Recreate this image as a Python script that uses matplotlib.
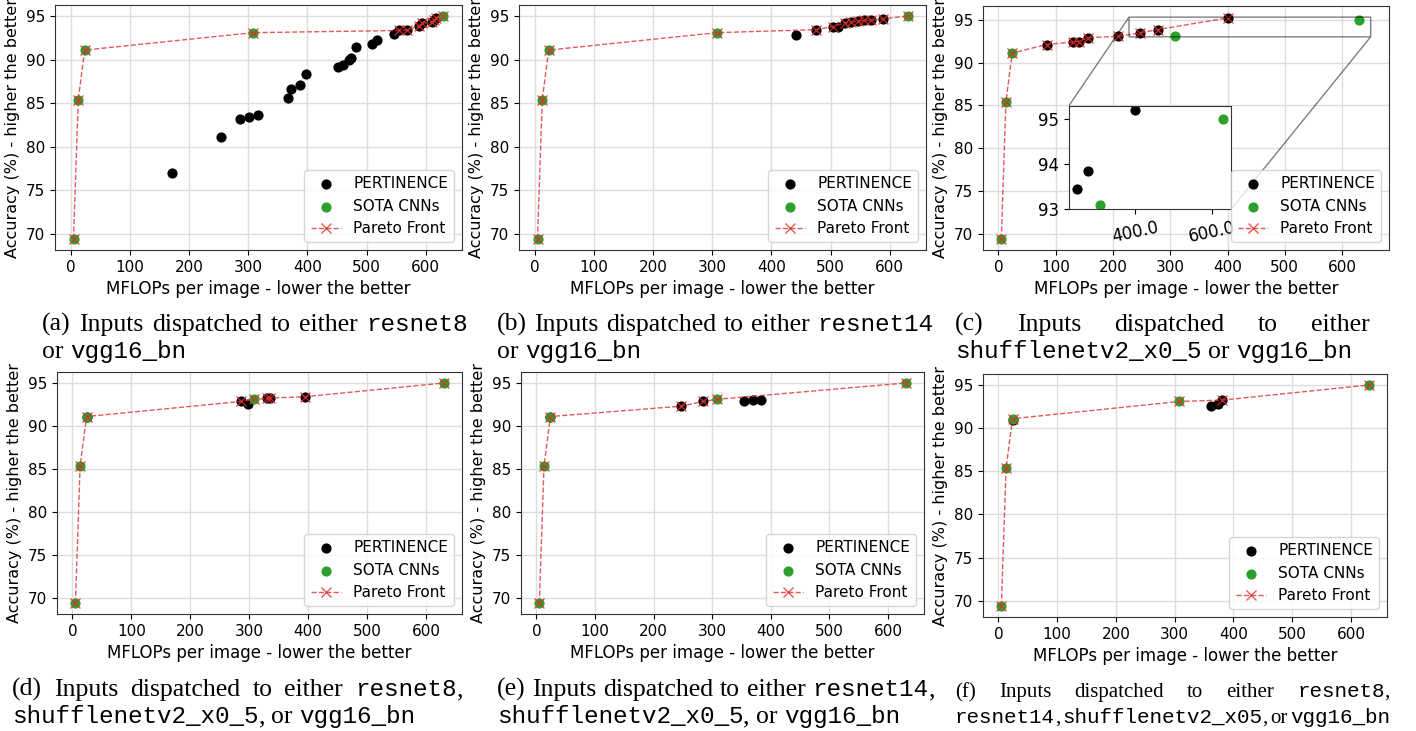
import numpy as np
import matplotlib.pyplot as plt

W, H, DPI = 1416, 731, 100
plt.rcParams['font.family'] = 'DejaVu Sans'
plt.rcParams['font.size'] = 12
plt.rcParams['xtick.labelsize'] = 11
plt.rcParams['ytick.labelsize'] = 11

# SOTA CNNs (same in every panel)
sota_x = [5, 13, 24, 308, 630]
sota_y = [69.4, 85.4, 91.1, 93.1, 95.0]

# PERTINENCE points per panel
a_x = [172, 254, 286, 302, 316, 367, 372, 388, 398, 451, 461, 470, 473, 483,
       510, 517, 547, 555, 569, 589, 594, 611, 614, 617]
a_y = [77.0, 81.1, 83.2, 83.4, 83.6, 85.6, 86.6, 87.1, 88.3, 89.1, 89.4, 90.0, 90.2, 91.4,
       91.8, 92.3, 92.9, 93.35, 93.4, 93.9, 94.2, 94.3, 94.6, 94.8]
b_x = [442, 475, 504, 512, 525, 534, 546, 557, 569, 589]
b_y = [92.8, 93.45, 93.8, 93.75, 94.25, 94.3, 94.4, 94.5, 94.55, 94.7]
c_x = [84, 130, 140, 157, 208, 248, 278, 400]
c_y = [92.1, 92.4, 92.45, 92.9, 93.05, 93.45, 93.85, 95.2]
d_x = [24, 286, 298, 330, 335, 394]
d_y = [91.0, 92.85, 92.5, 93.2, 93.25, 93.4]
e_x = [24, 247, 284, 355, 369, 383]
e_y = [91.0, 92.3, 92.85, 92.95, 93.0, 93.05]
f_x = [24, 361, 374, 380]
f_y = [91.0, 92.55, 92.75, 93.25]

# inset of panel (c)
inset_xlim = (228, 650)
inset_ylim = (93.0, 95.3)

SERIF, MONO = 'Liberation Serif', 'Liberation Mono'
captions = [
    [[[('(a)', SERIF)], [('Inputs', SERIF)], [('dispatched', SERIF)], [('to', SERIF)],
      [('either', SERIF)], [('resnet8', MONO)]],
     [[('or', SERIF)], [('vgg16_bn', MONO)]]],
    [[[('(b)', SERIF)], [('Inputs', SERIF)], [('dispatched', SERIF)], [('to', SERIF)],
      [('either', SERIF)], [('resnet14', MONO)]],
     [[('or', SERIF)], [('vgg16_bn', MONO)]]],
    [[[('(c)', SERIF)], [('Inputs', SERIF)], [('dispatched', SERIF)], [('to', SERIF)],
      [('either', SERIF)]],
     [[('shufflenetv2_x0_5', MONO)], [('or', SERIF)], [('vgg16_bn', MONO)]]],
    [[[('(d)', SERIF)], [('Inputs', SERIF)], [('dispatched', SERIF)], [('to', SERIF)],
      [('either', SERIF)], [('resnet8', MONO), (',', SERIF)]],
     [[('shufflenetv2_x0_5', MONO), (',', SERIF)], [('or', SERIF)], [('vgg16_bn', MONO)]]],
    [[[('(e)', SERIF)], [('Inputs', SERIF)], [('dispatched', SERIF)], [('to', SERIF)],
      [('either', SERIF)], [('resnet14', MONO), (',', SERIF)]],
     [[('shufflenetv2_x0_5', MONO), (',', SERIF)], [('or', SERIF)], [('vgg16_bn', MONO)]]],
    [[[('(f)', SERIF)], [('Inputs', SERIF)], [('dispatched', SERIF)], [('to', SERIF)],
      [('either', SERIF)], [('resnet8', MONO), (',', SERIF)]],
     [[('resnet14', MONO), (',', SERIF)], [('shufflenetv2_x05', MONO), (',', SERIF)],
      [('or', SERIF)], [('vgg16_bn', MONO)]]],
]


def pareto(xs, ys):
    pts = sorted(zip(xs, ys), key=lambda p: (p[0], -p[1]))
    front, best = [], -np.inf
    for x, y in pts:
        if y > best:
            front.append((x, y))
            best = y
    return [p[0] for p in front], [p[1] for p in front]


def px_axes(fig, left, top, right, bottom):
    return fig.add_axes([left / W, 1 - bottom / H, (right - left) / W, (bottom - top) / H])


def style(ax):
    ax.grid(True, color='#dddddd', linewidth=1)
    ax.set_axisbelow(True)
    for s in ax.spines.values():
        s.set_color('#333333')


def panel(ax, px, py):
    ax.scatter(px, py, s=40, color='black', label='PERTINENCE', zorder=3)
    ax.scatter(sota_x, sota_y, s=40, color='#2ca02c', label='SOTA CNNs', zorder=3)
    fx, fy = pareto(sota_x + px, sota_y + py)
    ax.plot(fx, fy, '--x', color='#e03030', alpha=0.8, lw=1, ms=7,
            label='Pareto Front', zorder=4)
    ax.set_xlabel('MFLOPs per image - lower the better')
    ax.set_ylabel('Accuracy (%) - higher the better', fontsize=11.5)
    ax.set_xticks([0, 100, 200, 300, 400, 500, 600])
    ax.set_yticks([70, 75, 80, 85, 90, 95])
    style(ax)
    ax.legend(loc='lower right', fontsize=11)


fig = plt.figure(figsize=(W / DPI, H / DPI), dpi=DPI)

rects = [(55, 5, 462, 250), (519, 5, 926, 250), (983, 6, 1389, 250),
         (57, 372, 462, 614), (521, 372, 924, 614), (983, 374, 1387, 617)]
data = [(a_x, a_y), (b_x, b_y), (c_x, c_y), (d_x, d_y), (e_x, e_y), (f_x, f_y)]
axes = []
for r, (px, py) in zip(rects, data):
    ax = px_axes(fig, *r)
    panel(ax, px, py)
    axes.append(ax)

# inset for panel (c)
axc = axes[2]
axc.set_xlim(-27, 682)
axc.set_ylim(68.1, 96.6)
axins = axc.inset_axes([0.212, 0.167, 0.399, 0.425])
axins.scatter(c_x, c_y, s=40, color='black')
axins.scatter(sota_x, sota_y, s=40, color='#2ca02c')
axins.set_xlim(*inset_xlim)
axins.set_ylim(*inset_ylim)
axins.set_xticks([400, 600])
axins.set_xticklabels(['400.0', '600.0'], rotation=12, fontsize=12)
axins.set_yticks([93, 94, 95])
axins.tick_params(axis='y', labelsize=12)
for s in axins.spines.values():
    s.set_color('#333333')
axc.indicate_inset_zoom(axins, edgecolor='black')

# captions
fig.canvas.draw()
renderer = fig.canvas.get_renderer()


def caption_line(x0, y, words, size, msize, width=None):
    placed = []
    for word in words:
        parts = []
        for s, fam in word:
            sz = msize if fam == MONO else size
            t = fig.text(0, 1 - y / H, s, family=fam, size=sz, va='baseline', ha='left')
            parts.append((t, t.get_window_extent(renderer).width))
        placed.append(parts)
    wws = [sum(w for _, w in parts) for parts in placed]
    gap = 0.25 * size * DPI / 72
    if width is not None and len(placed) > 1:
        gap = (width - sum(wws)) / (len(placed) - 1)
    x = x0
    for parts, ww in zip(placed, wws):
        xx = x
        for t, w in parts:
            t.set_x(xx / W)
            xx += w
        x += ww + gap


# x0, baseline line1, baseline line2, serif size, mono size, width line1, width line2
cap_pos = [(42, 331, 358, 18.5, 17.5, 426, None), (497, 331, 358, 18.5, 17.5, 436, None),
           (955, 331, 358, 18.5, 17.5, 415, None), (12, 696, 723, 18.5, 17.5, 451, None),
           (497, 696, 723, 18.5, 17.5, 438, None), (955, 697, 723, 15, 15, 435, 435)]
for cap, (x0, y1, y2, size, msize, w1, w2) in zip(captions, cap_pos):
    caption_line(x0, y1, cap[0], size, msize, w1)
    caption_line(x0, y2, cap[1], size, msize, w2)

fig.savefig('out.png', dpi=DPI)
